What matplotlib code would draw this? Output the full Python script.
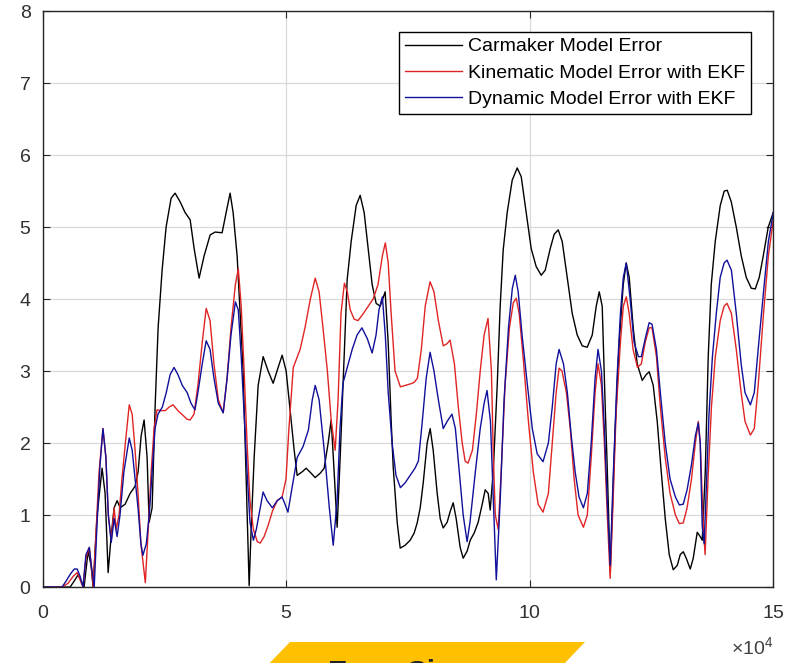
import numpy as np
import matplotlib.pyplot as plt
from matplotlib.patches import Polygon

plt.rcParams['font.family'] = ['Liberation Sans', 'DejaVu Sans']
plt.rcParams['mathtext.fontset'] = 'custom'
plt.rcParams['mathtext.rm'] = 'Liberation Sans'

# x values in units of 1e4
carmaker_x = [0, 0.555, 0.637, 0.719, 0.801, 0.842, 0.925, 0.986, 1.027, 1.110, 1.212, 1.274, 1.336, 1.397,
              1.459, 1.521, 1.582, 1.685, 1.788, 1.890, 1.952, 2.014, 2.075, 2.137, 2.178, 2.240, 2.301, 2.363,
              2.445, 2.527, 2.630, 2.712, 2.815, 2.918, 3.021, 3.103, 3.205, 3.308, 3.432, 3.534, 3.678, 3.760,
              3.842, 3.904, 3.986, 4.048, 4.110, 4.171, 4.233, 4.274, 4.336, 4.418, 4.521, 4.623, 4.726, 4.829,
              4.911, 4.993, 5.075, 5.158, 5.219, 5.322, 5.404, 5.507, 5.589, 5.692, 5.774, 5.856, 5.918, 5.979,
              6.041, 6.103, 6.185, 6.247, 6.329, 6.432, 6.514, 6.596, 6.678, 6.760, 6.842, 6.925, 7.027, 7.089,
              7.151, 7.192, 7.274, 7.336, 7.438, 7.541, 7.623, 7.685, 7.747, 7.808, 7.890, 7.952, 8.014, 8.096,
              8.158, 8.219, 8.301, 8.363, 8.425, 8.486, 8.568, 8.630, 8.712, 8.774, 8.856, 8.938, 9.021, 9.082,
              9.144, 9.185, 9.247, 9.329, 9.390, 9.452, 9.534, 9.637, 9.740, 9.822, 9.925, 10.027, 10.130,
              10.233, 10.315, 10.418, 10.500, 10.582, 10.664, 10.767, 10.870, 10.973, 11.075, 11.178, 11.281,
              11.363, 11.425, 11.486, 11.548, 11.589, 11.651, 11.692, 11.753, 11.836, 11.918, 11.979, 12.041,
              12.123, 12.205, 12.308, 12.390, 12.452, 12.534, 12.616, 12.699, 12.781, 12.863, 12.945, 13.027,
              13.089, 13.151, 13.212, 13.295, 13.356, 13.438, 13.500, 13.541, 13.603, 13.664, 13.726, 13.808,
              13.911, 13.993, 14.055, 14.137, 14.240, 14.342, 14.445, 14.548, 14.630, 14.712, 14.795, 14.897, 15.0]
carmaker_y = [0, 0, 0.08, 0.17, 0.05, 0.0, 0.5, 0.3, 0.0, 1.0, 1.65, 1.3, 0.2, 0.7,
              1.1, 1.2, 1.1, 1.15, 1.3, 1.4, 1.6, 2.1, 2.32, 1.8, 0.9, 1.1, 2.5, 3.6,
              4.4, 5.0, 5.4, 5.47, 5.35, 5.2, 5.1, 4.7, 4.29, 4.6, 4.89, 4.93, 4.92, 5.2,
              5.47, 5.2, 4.6, 3.8, 3.0, 1.5, 0.02, 0.8, 1.8, 2.8, 3.2, 3.0, 2.83, 3.05,
              3.22, 3.0, 2.46, 1.9, 1.55, 1.6, 1.65, 1.58, 1.52, 1.58, 1.65, 2.0, 2.32, 1.6,
              0.83, 1.8, 3.2, 4.27, 4.8, 5.3, 5.44, 5.2, 4.7, 4.2, 3.94, 3.9, 4.1, 3.4,
              2.3, 1.67, 0.9, 0.54, 0.58, 0.65, 0.75, 0.89, 1.1, 1.44, 2.0, 2.2, 1.9, 1.3,
              0.95, 0.82, 0.9, 1.05, 1.17, 0.95, 0.55, 0.4, 0.5, 0.65, 0.75, 0.9, 1.15, 1.35,
              1.3, 1.07, 1.6, 2.8, 3.9, 4.68, 5.2, 5.65, 5.82, 5.7, 5.2, 4.7, 4.45,
              4.33, 4.4, 4.7, 4.9, 4.96, 4.8, 4.3, 3.8, 3.5, 3.35, 3.33, 3.5,
              3.9, 4.1, 3.9, 2.5, 1.67, 0.2, 1.0, 2.2, 3.4, 4.2, 4.5, 4.3,
              3.6, 3.1, 2.87, 2.95, 2.99, 2.8, 2.3, 1.6, 0.95, 0.45, 0.24, 0.3,
              0.45, 0.49, 0.4, 0.25, 0.4, 0.76, 0.7, 0.65, 1.6, 3.2, 4.2, 4.8,
              5.3, 5.5, 5.51, 5.35, 5.0, 4.6, 4.3, 4.15, 4.14, 4.3, 4.6, 5.0, 5.2]

kinematic_x = [0, 0.39, 0.51, 0.62, 0.70, 0.76, 0.82, 0.88, 0.95, 0.99, 1.03, 1.09, 1.15, 1.23, 1.29, 1.34,
               1.40, 1.46, 1.50, 1.56, 1.62, 1.69, 1.77, 1.83, 1.89, 1.95, 2.01, 2.10, 2.16, 2.22, 2.28, 2.34,
               2.42, 2.51, 2.59, 2.67, 2.77, 2.88, 2.96, 3.02, 3.10, 3.18, 3.27, 3.35, 3.43, 3.51, 3.60, 3.70,
               3.78, 3.86, 3.95, 4.01, 4.07, 4.13, 4.19, 4.25, 4.32, 4.40, 4.46, 4.54, 4.62, 4.71, 4.81, 4.91,
               4.99, 5.05, 5.14, 5.28, 5.38, 5.49, 5.59, 5.67, 5.75, 5.84, 5.92, 6.00, 6.06, 6.12, 6.19, 6.25,
               6.31, 6.39, 6.47, 6.58, 6.68, 6.78, 6.88, 6.97, 7.03, 7.09, 7.15, 7.23, 7.34, 7.44, 7.54, 7.62,
               7.69, 7.77, 7.85, 7.95, 8.03, 8.12, 8.22, 8.30, 8.36, 8.45, 8.53, 8.61, 8.67, 8.73, 8.82, 8.90,
               8.98, 9.06, 9.14, 9.21, 9.25, 9.29, 9.35, 9.41, 9.49, 9.58, 9.66, 9.72, 9.78, 9.86, 9.97, 10.07,
               10.17, 10.27, 10.38, 10.46, 10.54, 10.60, 10.66, 10.75, 10.83, 10.91, 10.99, 11.10, 11.18, 11.26,
               11.34, 11.40, 11.47, 11.53, 11.59, 11.65, 11.71, 11.77, 11.86, 11.92, 11.98, 12.04, 12.12, 12.21,
               12.29, 12.37, 12.45, 12.51, 12.60, 12.68, 12.78, 12.88, 12.99, 13.07, 13.15, 13.23, 13.32, 13.40,
               13.46, 13.50, 13.56, 13.60, 13.66, 13.73, 13.81, 13.91, 13.99, 14.05, 14.14, 14.24, 14.34, 14.42,
               14.53, 14.61, 14.69, 14.80, 14.90, 15.0]
kinematic_y = [0, 0, 0.05, 0.15, 0.2, 0.1, 0.0, 0.4, 0.55, 0.3, 0.0, 0.8, 1.6, 2.2, 1.8, 1.0,
               0.65, 1.1, 0.8, 1.0, 1.5, 2.0, 2.53, 2.4, 1.9, 1.3, 0.6, 0.06, 0.8, 1.6, 2.2, 2.46,
               2.45, 2.45, 2.5, 2.53, 2.45, 2.38, 2.33, 2.32, 2.4, 2.8, 3.4, 3.87, 3.7, 3.1, 2.6, 2.42,
               2.9, 3.6, 4.2, 4.42, 3.9, 3.0, 2.0, 1.2, 0.8, 0.63, 0.61, 0.7, 0.85, 1.05, 1.2, 1.25,
               1.5, 2.2, 3.05, 3.3, 3.6, 4.0, 4.29, 4.1, 3.6, 3.0, 2.3, 1.9, 2.6, 3.8, 4.22, 4.1,
               3.85, 3.72, 3.7, 3.8, 3.9, 4.0, 4.2, 4.6, 4.78, 4.5, 3.8, 3.0, 2.78, 2.8, 2.82, 2.84,
               2.9, 3.3, 3.9, 4.24, 4.1, 3.7, 3.35, 3.38, 3.43, 3.1, 2.5, 2.0, 1.75, 1.72, 1.9, 2.4,
               3.0, 3.5, 3.73, 3.0, 1.8, 1.0, 0.8, 1.6, 2.8, 3.6, 3.95, 4.01, 3.8, 3.2, 2.3, 1.6,
               1.15, 1.04, 1.3, 2.0, 2.7, 3.04, 3.0, 2.7, 2.2, 1.5, 1.0, 0.83, 1.0, 1.8,
               2.7, 3.1, 2.8, 2.0, 1.0, 0.12, 1.2, 2.4, 3.4, 3.9, 4.03, 3.8, 3.3, 3.05,
               3.1, 3.4, 3.6, 3.6, 3.2, 2.5, 1.8, 1.3, 1.0, 0.88, 0.89, 1.1, 1.5, 2.0,
               2.3, 2.0, 0.9, 0.45, 1.5, 2.5, 3.2, 3.7, 3.9, 3.94, 3.8, 3.3, 2.7, 2.3,
               2.11, 2.2, 2.8, 3.8, 4.6, 5.1]

dynamic_x = [0, 0.39, 0.47, 0.56, 0.64, 0.70, 0.76, 0.82, 0.88, 0.95, 0.99, 1.05, 1.11, 1.17, 1.23, 1.29,
             1.34, 1.40, 1.46, 1.52, 1.58, 1.66, 1.77, 1.83, 1.89, 1.95, 2.01, 2.05, 2.12, 2.18, 2.24, 2.30,
             2.36, 2.45, 2.53, 2.61, 2.69, 2.77, 2.86, 2.96, 3.04, 3.12, 3.18, 3.27, 3.35, 3.43, 3.51, 3.60,
             3.70, 3.78, 3.86, 3.95, 4.01, 4.07, 4.13, 4.19, 4.25, 4.32, 4.38, 4.46, 4.52, 4.60, 4.71, 4.81,
             4.91, 4.97, 5.03, 5.12, 5.22, 5.34, 5.45, 5.53, 5.59, 5.67, 5.73, 5.79, 5.88, 5.96, 6.04, 6.10,
             6.16, 6.27, 6.35, 6.45, 6.55, 6.66, 6.76, 6.84, 6.90, 6.97, 7.03, 7.09, 7.17, 7.25, 7.34, 7.44,
             7.54, 7.64, 7.71, 7.79, 7.87, 7.95, 8.03, 8.12, 8.22, 8.30, 8.40, 8.47, 8.55, 8.63, 8.71, 8.77,
             8.88, 8.98, 9.06, 9.12, 9.19, 9.25, 9.31, 9.39, 9.47, 9.56, 9.64, 9.70, 9.76, 9.84, 9.95, 10.05,
             10.15, 10.27, 10.38, 10.46, 10.54, 10.60, 10.69, 10.77, 10.85, 10.93, 11.01, 11.10, 11.18, 11.26,
             11.34, 11.40, 11.47, 11.53, 11.59, 11.65, 11.71, 11.79, 11.86, 11.92, 11.98, 12.06, 12.14, 12.23,
             12.29, 12.37, 12.45, 12.51, 12.60, 12.68, 12.78, 12.88, 12.99, 13.07, 13.15, 13.23, 13.32, 13.40,
             13.46, 13.50, 13.54, 13.58, 13.62, 13.68, 13.75, 13.83, 13.91, 13.99, 14.05, 14.14, 14.24, 14.34,
             14.42, 14.53, 14.61, 14.69, 14.80, 14.90, 15.0]
dynamic_y = [0, 0, 0.08, 0.18, 0.25, 0.25, 0.15, 0.0, 0.45, 0.55, 0.3, 0.0, 0.9, 1.7, 2.2, 1.8,
             1.0, 0.62, 0.95, 0.7, 1.0, 1.6, 2.07, 1.9, 1.5, 1.1, 0.6, 0.44, 0.6, 1.0, 1.6, 2.2,
             2.4, 2.5, 2.7, 2.95, 3.05, 2.95, 2.8, 2.7, 2.55, 2.46, 2.7, 3.1, 3.42, 3.3, 2.9, 2.55,
             2.42, 2.9, 3.5, 3.96, 3.85, 3.2, 2.4, 1.6, 0.9, 0.65, 0.8, 1.1, 1.32, 1.2, 1.1, 1.2,
             1.25, 1.15, 1.04, 1.4, 1.8, 1.95, 2.18, 2.6, 2.8, 2.6, 2.2, 1.8, 1.1, 0.58, 1.2, 2.2,
             2.83, 3.1, 3.3, 3.5, 3.6, 3.45, 3.25, 3.5, 3.85, 4.03, 3.5, 2.7, 2.0, 1.55, 1.38, 1.45,
             1.55, 1.65, 1.75, 2.3, 2.9, 3.26, 3.0, 2.6, 2.2, 2.3, 2.4, 2.2, 1.6, 1.0, 0.63, 0.9,
             1.6, 2.2, 2.55, 2.73, 2.3, 1.2, 0.1, 1.2, 2.6, 3.6, 4.15, 4.33, 4.1, 3.5, 2.8, 2.2,
             1.85, 1.74, 2.0, 2.5, 3.1, 3.3, 3.1, 2.7, 2.1, 1.6, 1.25, 1.1, 1.3, 2.0,
             2.9, 3.3, 3.0, 2.2, 1.2, 0.3, 1.5, 2.9, 3.8, 4.3, 4.5, 4.0, 3.4, 3.2,
             3.2, 3.45, 3.67, 3.65, 3.3, 2.7, 2.0, 1.5, 1.25, 1.14, 1.15, 1.35, 1.7, 2.1,
             2.28, 2.0, 0.85, 0.6, 1.3, 2.4, 3.2, 3.8, 4.3, 4.5, 4.54, 4.4, 3.8, 3.1,
             2.7, 2.53, 2.7, 3.3, 4.1, 4.8, 5.2]

labels = ['Carmaker Model Error', 'Kinematic Model Error with EKF', 'Dynamic Model Error with EKF']

fig = plt.figure(figsize=(7.98, 6.63), dpi=100)
ax = fig.add_axes([0.054, 0.1146, 0.915, 0.8688])

ax.plot(np.array(carmaker_x) * 1e4, carmaker_y, color='black', lw=1.0, label=labels[0])
ax.plot(np.array(kinematic_x) * 1e4, kinematic_y, color='#e02424', lw=1.0, label=labels[1])
ax.plot(np.array(dynamic_x) * 1e4, dynamic_y, color='#10109a', lw=1.0, label=labels[2])

ax.set_xlim(0, 150000)
ax.set_ylim(0, 8)
ax.set_xticks([0, 50000, 100000, 150000])
ax.set_yticks(range(0, 9))
ax.ticklabel_format(axis='x', style='sci', scilimits=(4, 4), useMathText=True)
ax.xaxis.get_offset_text().set_visible(False)
ax.grid(True, color='#d9d9d9', lw=0.9)
ax.set_axisbelow(True)

for s in ax.spines.values():
    s.set_color('#262626')
    s.set_linewidth(1.0)
ax.tick_params(axis='both', direction='in', length=5, width=0.8, color='#262626',
               labelsize=14, labelcolor='#303030', top=True, right=True)
ax.tick_params(axis='y', pad=9)
ax.tick_params(axis='x', pad=13)

# exponent label under the right end of the x axis
fig.text(0.969, 0.0226, r'$\times10^{4}$', fontsize=14, color='#404040', ha='right', va='center')

leg = ax.legend(loc='upper right', bbox_to_anchor=(0.970, 0.9635), borderaxespad=0,
                fontsize=14, fancybox=False, framealpha=1, edgecolor='black',
                handlelength=2.9, handletextpad=0.35, borderpad=0.3, labelspacing=0.45)
leg.get_frame().set_linewidth(1.0)

# yellow banner at the bottom edge
fig.patches.append(Polygon([(0.3634, 0.0317), (0.7331, 0.0317), (0.7000, -0.01), (0.3300, -0.01)],
                           closed=True, transform=fig.transFigure, facecolor='#ffc000', edgecolor='none'))
fig.text(0.411, 0.006, 'Error Si', fontsize=21, fontweight='bold', color='#222222', va='top', ha='left')

fig.savefig('out.png', dpi=100)
